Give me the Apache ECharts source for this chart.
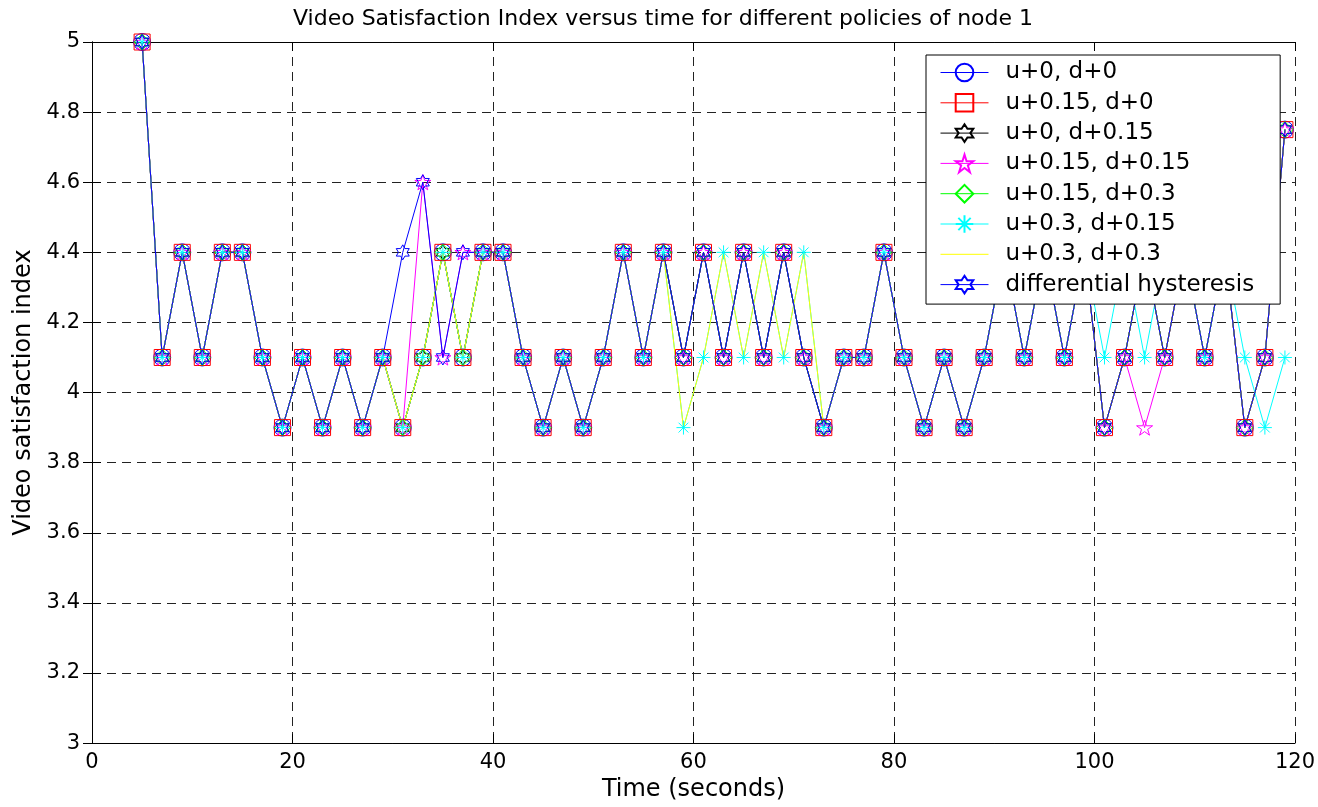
<!DOCTYPE html>
<html>
<head>
    <meta charset="utf-8">
    <title>Video Satisfaction Index</title>
    <script src="https://cdn.jsdelivr.net/npm/echarts@6/dist/echarts.min.js"></script>
    <style>
        html, body { margin: 0; padding: 0; background: #fff; }
    </style>
</head>
<body>
    <div id="main" style="width: 1318px; height: 807px;"></div>

    <script type="text/javascript">
        // time axis (seconds), one sample every 2 s
        var time = [5, 7, 9, 11, 13, 15, 17, 19, 21, 23, 25, 27, 29, 31, 33, 35, 37, 39, 41, 43,
            45, 47, 49, 51, 53, 55, 57, 59, 61, 63, 65, 67, 69, 71, 73, 75, 77, 79, 81, 83,
            85, 87, 89, 91, 93, 95, 97, 99, 101, 103, 105, 107, 109, 111, 113, 115, 117, 119];

        // u+0, d+0
        var u0d0 = [5, 4.1, 4.4, 4.1, 4.4, 4.4, 4.1, 3.9, 4.1, 3.9, 4.1, 3.9, 4.1, 3.9, 4.1, 4.4, 4.1, 4.4, 4.4, 4.1,
            3.9, 4.1, 3.9, 4.1, 4.4, 4.1, 4.4, 4.1, 4.4, 4.1, 4.4, 4.1, 4.4, 4.1, 3.9, 4.1, 4.1, 4.4, 4.1, 3.9,
            4.1, 3.9, 4.1, 4.4, 4.1, 4.4, 4.1, 4.4, 3.9, 4.1, 4.4, 4.1, 4.4, 4.1, 4.4, 3.9, 4.1, 4.75];
        // u+0.15, d+0
        var u15d0 = [5, 4.1, 4.4, 4.1, 4.4, 4.4, 4.1, 3.9, 4.1, 3.9, 4.1, 3.9, 4.1, 3.9, 4.1, 4.4, 4.1, 4.4, 4.4, 4.1,
            3.9, 4.1, 3.9, 4.1, 4.4, 4.1, 4.4, 4.1, 4.4, 4.1, 4.4, 4.1, 4.4, 4.1, 3.9, 4.1, 4.1, 4.4, 4.1, 3.9,
            4.1, 3.9, 4.1, 4.4, 4.1, 4.4, 4.1, 4.4, 3.9, 4.1, 4.4, 4.1, 4.4, 4.1, 4.4, 3.9, 4.1, 4.75];
        // u+0, d+0.15
        var u0d15 = [5, 4.1, 4.4, 4.1, 4.4, 4.4, 4.1, 3.9, 4.1, 3.9, 4.1, 3.9, 4.1, 3.9, 4.1, 4.4, 4.1, 4.4, 4.4, 4.1,
            3.9, 4.1, 3.9, 4.1, 4.4, 4.1, 4.4, 4.1, 4.4, 4.1, 4.4, 4.1, 4.4, 4.1, 3.9, 4.1, 4.1, 4.4, 4.1, 3.9,
            4.1, 3.9, 4.1, 4.4, 4.1, 4.4, 4.1, 4.4, 3.9, 4.1, 4.4, 4.1, 4.4, 4.1, 4.4, 3.9, 4.1, 4.75];
        // u+0.15, d+0.15
        var u15d15 = [5, 4.1, 4.4, 4.1, 4.4, 4.4, 4.1, 3.9, 4.1, 3.9, 4.1, 3.9, 4.1, 3.9, 4.6, 4.1, 4.4, 4.4, 4.4, 4.1,
            3.9, 4.1, 3.9, 4.1, 4.4, 4.1, 4.4, 4.1, 4.4, 4.1, 4.4, 4.1, 4.4, 4.1, 3.9, 4.1, 4.1, 4.4, 4.1, 3.9,
            4.1, 3.9, 4.1, 4.4, 4.1, 4.4, 4.1, 4.4, 3.9, 4.1, 3.9, 4.1, 4.4, 4.1, 4.4, 3.9, 4.1, 4.75];
        // u+0.15, d+0.3
        var u15d30 = [5, 4.1, 4.4, 4.1, 4.4, 4.4, 4.1, 3.9, 4.1, 3.9, 4.1, 3.9, 4.1, 3.9, 4.1, 4.4, 4.1, 4.4, 4.4, 4.1,
            3.9, 4.1, 3.9, 4.1, 4.4, 4.1, 4.4, 4.1, 4.4, 4.1, 4.4, 4.1, 4.4, 4.1, 3.9, 4.1, 4.1, 4.4, 4.1, 3.9,
            4.1, 3.9, 4.1, 4.4, 4.1, 4.4, 4.1, 4.4, 3.9, 4.1, 4.4, 4.1, 4.4, 4.1, 4.4, 3.9, 4.1, 4.75];
        // u+0.3, d+0.15
        var u30d15 = [5, 4.1, 4.4, 4.1, 4.4, 4.4, 4.1, 3.9, 4.1, 3.9, 4.1, 3.9, 4.1, 3.9, 4.1, 4.4, 4.1, 4.4, 4.4, 4.1,
            3.9, 4.1, 3.9, 4.1, 4.4, 4.1, 4.4, 3.9, 4.1, 4.4, 4.1, 4.4, 4.1, 4.4, 3.9, 4.1, 4.1, 4.4, 4.1, 3.9,
            4.1, 3.9, 4.1, 4.4, 4.1, 4.4, 4.1, 4.4, 4.1, 4.4, 4.1, 4.4, 4.4, 4.1, 4.4, 4.1, 3.9, 4.1];
        // u+0.3, d+0.3
        var u30d30 = [5, 4.1, 4.4, 4.1, 4.4, 4.4, 4.1, 3.9, 4.1, 3.9, 4.1, 3.9, 4.1, 3.9, 4.1, 4.4, 4.1, 4.4, 4.4, 4.1,
            3.9, 4.1, 3.9, 4.1, 4.4, 4.1, 4.4, 3.9, 4.1, 4.4, 4.1, 4.4, 4.1, 4.4, 3.9, 4.1, 4.1, 4.4, 4.1, 3.9,
            4.1, 3.9, 4.1, 4.4, 4.1, 4.4, 4.1, 4.4, 3.9, 4.1, 4.4, 4.1, 4.4, 4.1, 4.4, 3.9, 4.1, 4.75];
        // differential hysteresis
        var hyst = [5, 4.1, 4.4, 4.1, 4.4, 4.4, 4.1, 3.9, 4.1, 3.9, 4.1, 3.9, 4.1, 4.4, 4.6, 4.1, 4.4, 4.4, 4.4, 4.1,
            3.9, 4.1, 3.9, 4.1, 4.4, 4.1, 4.4, 4.1, 4.4, 4.1, 4.4, 4.1, 4.4, 4.1, 3.9, 4.1, 4.1, 4.4, 4.1, 3.9,
            4.1, 3.9, 4.1, 4.4, 4.1, 4.4, 4.1, 4.4, 3.9, 4.1, 4.4, 4.1, 4.4, 4.1, 4.4, 3.9, 4.1, 4.75];

        var xTicks = [0, 120, 20];       // min, max, step
        var yTicks = [3, 5, 0.2];

        var font = 'DejaVu Sans';

        // marker shapes (matlab style)
        var HEXAGRAM = 'path://M0,-10L2.89,-5L8.66,-5L5.77,0L8.66,5L2.89,5L0,10L-2.89,5L-8.66,5L-5.77,0L-8.66,-5L-2.89,-5Z';
        var PENTAGRAM = 'path://M0,-10L2.25,-3.09L9.51,-3.09L3.63,1.18L5.88,8.09L0,3.82L-5.88,8.09L-3.63,1.18L-9.51,-3.09L-2.25,-3.09Z';
        var ASTERISK = 'path://M-10,0L10,0M0,-10L0,10M-7,-7L7,7M-7,7L7,-7';

        function pairs(ys) {
            var out = [];
            for (var i = 0; i < ys.length; i++) {
                out.push([time[i], ys[i]]);
            }
            return out;
        }

        function mkSeries(name, ys, color, symbol, size) {
            var noMark = symbol === 'none';
            return {
                name: name,
                type: 'line',
                data: pairs(ys),
                symbol: symbol,
                symbolSize: size,
                symbolKeepAspect: true,
                showSymbol: !noMark,
                lineStyle: { color: color, width: 1 },
                // hollow markers; the yellow one has no marker at all (also in legend)
                itemStyle: {
                    color: 'rgba(255,255,255,0)',
                    borderColor: noMark ? 'rgba(255,255,255,0)' : color,
                    borderWidth: 1
                },
                emphasis: { disabled: true },
                z: 2
            };
        }

        var myChart = echarts.init(document.getElementById('main'));

        var option = {
            animation: false,
            backgroundColor: '#fff',
            title: {
                text: 'Video Satisfaction Index versus time for different policies of node 1',
                left: 293,
                top: 8,
                padding: 0,
                textStyle: { fontFamily: font, fontSize: 22, fontWeight: 'normal', color: '#000' }
            },
            grid: { left: 92, right: 22, top: 42, bottom: 50 },
            legend: {
                orient: 'vertical',
                left: 926,
                top: 55,
                padding: [6, 26, 8, 14],
                itemWidth: 48,
                itemHeight: 22,
                itemGap: 7.3,
                backgroundColor: '#fff',
                borderColor: '#000',
                borderWidth: 1,
                borderRadius: 0,
                selectedMode: false,
                lineStyle: { width: 1 },
                textStyle: { fontFamily: font, fontSize: 23, color: '#000', padding: [0, 0, 0, 12] },
                data: ['u+0, d+0', 'u+0.15, d+0', 'u+0, d+0.15', 'u+0.15, d+0.15',
                    'u+0.15, d+0.3', 'u+0.3, d+0.15', 'u+0.3, d+0.3', 'differential hysteresis']
            },
            xAxis: [
                {
                    type: 'value',
                    min: xTicks[0], max: xTicks[1], interval: xTicks[2],
                    name: 'Time (seconds)',
                    nameLocation: 'middle',
                    nameGap: 25,
                    nameTextStyle: { fontFamily: font, fontSize: 24, color: '#000' },
                    axisLine: { lineStyle: { color: '#000', width: 1 } },
                    axisTick: { inside: true, length: 9, lineStyle: { color: '#000' } },
                    axisLabel: { fontFamily: font, fontSize: 21, color: '#000', margin: 9 },
                    splitLine: { show: true, lineStyle: { color: '#222', type: [9, 6], width: 1 } }
                },
                {
                    type: 'value',
                    position: 'top',
                    min: xTicks[0], max: xTicks[1], interval: xTicks[2],
                    axisLine: { lineStyle: { color: '#000', width: 1 } },
                    axisTick: { inside: true, length: 9, lineStyle: { color: '#000' } },
                    axisLabel: { show: false },
                    splitLine: { show: false }
                }
            ],
            yAxis: [
                {
                    type: 'value',
                    min: yTicks[0], max: yTicks[1], interval: yTicks[2],
                    name: 'Video satisfaction index',
                    nameLocation: 'middle',
                    nameGap: 53,
                    nameTextStyle: { fontFamily: font, fontSize: 24, color: '#000' },
                    axisLine: { show: true, lineStyle: { color: '#000', width: 1 } },
                    axisTick: { show: true, inside: true, length: 9, lineStyle: { color: '#000' } },
                    axisLabel: { fontFamily: font, fontSize: 21, color: '#000', margin: 12 },
                    splitLine: { show: true, lineStyle: { color: '#222', type: [9, 6], width: 1 } }
                },
                {
                    type: 'value',
                    position: 'right',
                    min: yTicks[0], max: yTicks[1], interval: yTicks[2],
                    axisLine: { show: true, lineStyle: { color: '#000', width: 1 } },
                    axisTick: { show: true, inside: true, length: 9, lineStyle: { color: '#000' } },
                    axisLabel: { show: false },
                    splitLine: { show: false }
                }
            ],
            series: [
                mkSeries('u+0, d+0', u0d0, '#0000ff', 'circle', 17),
                mkSeries('u+0.15, d+0', u15d0, '#ff0000', 'rect', 16),
                mkSeries('u+0, d+0.15', u0d15, '#000000', HEXAGRAM, 15),
                mkSeries('u+0.15, d+0.15', u15d15, '#ff00ff', PENTAGRAM, 16),
                mkSeries('u+0.15, d+0.3', u15d30, '#00ff00', 'diamond', 16),
                mkSeries('u+0.3, d+0.15', u30d15, '#00ffff', ASTERISK, 14),
                mkSeries('u+0.3, d+0.3', u30d30, '#ffff00', 'none', 10),
                mkSeries('differential hysteresis', hyst, '#0000ff', HEXAGRAM, 15)
            ]
        };

        myChart.setOption(option);
    </script>
</body>
</html>
